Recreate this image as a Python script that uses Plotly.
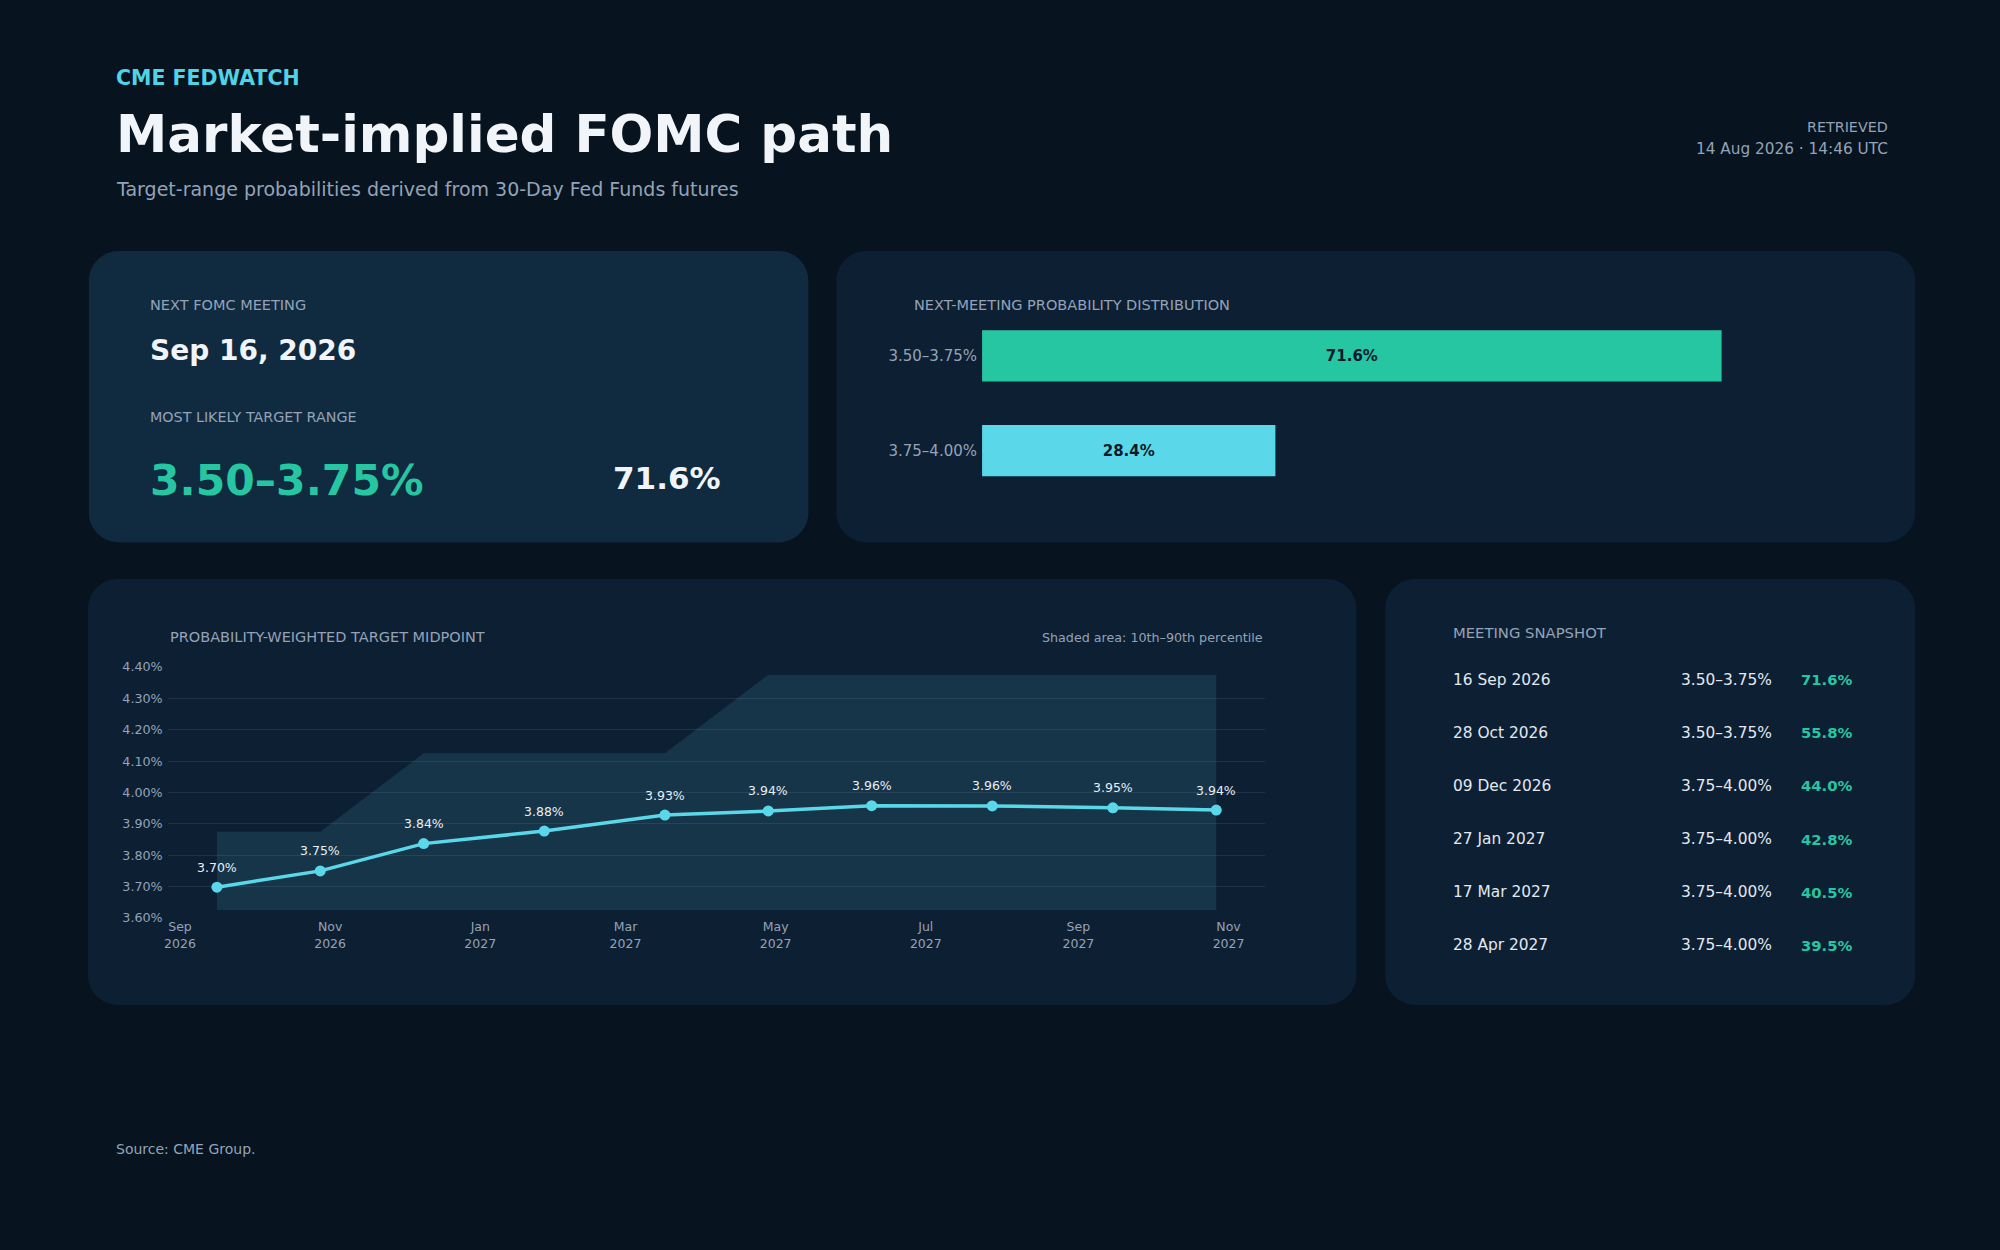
import plotly.graph_objects as go

W, H = 2000, 1250
FONT = "DejaVu Sans"

# ---- data ----
next_meeting = "Sep 16, 2026"
top_range = "3.50–3.75%"
top_prob = 71.6

dist_ranges = ["3.50–3.75%", "3.75–4.00%"]
dist_probs = [71.6, 28.4]

meeting_dates = [
    "2026-09-16", "2026-10-28", "2026-12-09", "2027-01-27", "2027-03-17",
    "2027-04-28", "2027-06-09", "2027-07-28", "2027-09-15", "2027-10-27",
]
midpoints = [3.698, 3.750, 3.837, 3.877, 3.928, 3.941, 3.958, 3.957, 3.951, 3.944]
band_low = [3.625, 3.625, 3.625, 3.625, 3.625, 3.625, 3.625, 3.625, 3.625, 3.625]
band_high = [3.875, 3.875, 4.125, 4.125, 4.125, 4.375, 4.375, 4.375, 4.375, 4.375]

snap_dates = ["16 Sep 2026", "28 Oct 2026", "09 Dec 2026", "27 Jan 2027", "17 Mar 2027", "28 Apr 2027"]
snap_ranges = ["3.50–3.75%", "3.50–3.75%", "3.75–4.00%", "3.75–4.00%", "3.75–4.00%", "3.75–4.00%"]
snap_probs = [71.6, 55.8, 44.0, 42.8, 40.5, 39.5]

# ---- colours ----
BG = "#07131f"
CARD_HI = "#102a40"
CARD = "#0d1f33"
MUTED = "#94a3b8"
WHITE = "#f1f5f9"
TEAL = "#27c6a3"
CYAN = "#5ad8ea"
GRID = "#1f3249"


def px(x):
    return x / W


def py(y):
    return 1 - y / H


def card(x0, y0, x1, y1, color, r=30):
    # rounded rectangle in paper coords (pixel inputs, y top-down)
    rx, ry = r / W, r / H
    k = 0.5523
    X0, X1, T, B = px(x0), px(x1), py(y0), py(y1)
    path = (
        f"M {X0 + rx},{T} L {X1 - rx},{T} "
        f"C {X1 - rx + k * rx},{T} {X1},{T - ry + k * ry} {X1},{T - ry} "
        f"L {X1},{B + ry} "
        f"C {X1},{B + ry - k * ry} {X1 - rx + k * rx},{B} {X1 - rx},{B} "
        f"L {X0 + rx},{B} "
        f"C {X0 + rx - k * rx},{B} {X0},{B + ry - k * ry} {X0},{B + ry} "
        f"L {X0},{T - ry} "
        f"C {X0},{T - ry + k * ry} {X0 + rx - k * rx},{T} {X0 + rx},{T} Z"
    )
    return dict(type="path", xref="paper", yref="paper", path=path,
                fillcolor=color, line=dict(width=0), layer="below")


annotations = []


def text(x, y, s, size, color, anchor="left", bold=False):
    annotations.append(dict(
        x=px(x), y=py(y), xref="paper", yref="paper", showarrow=False,
        text=f"<b>{s}</b>" if bold else s, xanchor=anchor, yanchor="middle",
        font=dict(family=FONT, size=size, color=color),
    ))


fig = go.Figure()

# next-meeting distribution (horizontal bars)
fig.add_trace(go.Bar(
    x=dist_probs, y=dist_ranges, orientation="h",
    marker=dict(color=[TEAL, CYAN], line=dict(width=0)),
    texttemplate="<b>%{x:.1f}%</b>", textposition="inside", insidetextanchor="middle",
    textfont=dict(family=FONT, size=15, color="#0b1a2b"),
    xaxis="x", yaxis="y", hoverinfo="skip",
))

# percentile band
fig.add_trace(go.Scatter(
    x=meeting_dates, y=band_low, mode="lines", line=dict(width=0),
    xaxis="x2", yaxis="y2", hoverinfo="skip",
))
fig.add_trace(go.Scatter(
    x=meeting_dates, y=band_high, mode="lines", line=dict(width=0),
    fill="tonexty", fillcolor="rgba(90,215,232,0.12)",
    xaxis="x2", yaxis="y2", hoverinfo="skip",
))
# probability-weighted midpoint
fig.add_trace(go.Scatter(
    x=meeting_dates, y=midpoints, mode="lines+markers",
    line=dict(color=CYAN, width=3.5), marker=dict(color=CYAN, size=11),
    xaxis="x2", yaxis="y2",
))
for d, v in zip(meeting_dates, midpoints):
    annotations.append(dict(
        x=d, y=v, xref="x2", yref="y2", showarrow=False, yshift=20,
        text=f"{v:.2f}%", font=dict(family=FONT, size=12.5, color="#e8eef5"),
    ))

# header
text(110, 71, "<b>CME FEDWATCH</b>", 20.5, "#4fd3e6")
text(110, 128, "<b>Market-implied FOMC path</b>", 51.5, WHITE)
text(110, 183, "Target-range probabilities derived from 30-Day Fed Funds futures", 19, MUTED)
text(1890, 120, "RETRIEVED", 14.3, MUTED, anchor="right")
text(1890, 143, "14 Aug 2026 · 14:46 UTC", 15.3, MUTED, anchor="right")

# card 1
text(144, 301, "NEXT FOMC MEETING", 14.5, MUTED)
text(144, 347, next_meeting, 28, WHITE, bold=True)
text(144, 414, "MOST LIKELY TARGET RANGE", 14.3, MUTED)
text(144, 478, top_range, 42.5, TEAL, bold=True)
text(720, 476, f"{top_prob:.1f}%", 31, WHITE, anchor="right", bold=True)

# card 2
text(910, 301, "NEXT-MEETING PROBABILITY DISTRIBUTION", 14.5, MUTED)

# card 3
text(164, 637, "PROBABILITY-WEIGHTED TARGET MIDPOINT", 14.5, MUTED)
text(1264, 637, "Shaded area: 10th–90th percentile", 12.7, MUTED, anchor="right")

# card 4 - meeting snapshot
text(1450, 632, "MEETING SNAPSHOT", 14.8, MUTED)
for i, (d, r, p) in enumerate(zip(snap_dates, snap_ranges, snap_probs)):
    y = 680 + i * 53.7
    text(1450, y, d, 15.4, "#e2e8f0")
    text(1678, y, r, 15.4, "#e2e8f0")
    text(1799, y, f"{p:.1f}%", 14.8, TEAL, bold=True)

# footer
text(110, 1155, "Source: CME Group.", 14, MUTED)

shapes = [
    card(85, 246, 806, 541, CARD_HI),
    card(834, 246, 1915, 541, CARD),
    card(84, 578, 1355, 1009, CARD),
    card(1384, 578, 1915, 1009, CARD),
]

fig.update_layout(
    width=W, height=H,
    margin=dict(l=0, r=0, t=0, b=0),
    paper_bgcolor=BG, plot_bgcolor="rgba(0,0,0,0)",
    showlegend=False,
    font=dict(family=FONT, color=MUTED),
    shapes=shapes, annotations=annotations,
    bargap=0.46,
    xaxis=dict(domain=[px(980), px(1808)], range=[0, 80], visible=False, fixedrange=True),
    yaxis=dict(domain=[py(496), py(304)], range=[1.5, -0.5], showgrid=False,
               zeroline=False, ticks="", ticklabelstandoff=4,
               tickfont=dict(family=FONT, size=15, color=MUTED)),
    xaxis2=dict(domain=[px(164), px(1264)], anchor="y2", type="date",
                range=["2026-08-27", "2027-11-16"], dtick="M2", tick0="2026-09-01",
                tickformat="%b<br>%Y", showgrid=False, zeroline=False, showline=False,
                ticks="", tickfont=dict(family=FONT, size=12.5, color=MUTED)),
    yaxis2=dict(domain=[py(921), py(667)], anchor="x2", range=[3.6, 4.4], dtick=0.1,
                tick0=3.6, tickformat=".2f", ticksuffix="%", gridcolor=GRID, gridwidth=1,
                zeroline=False, showline=False, ticks="", ticklabelstandoff=4,
                tickfont=dict(family=FONT, size=12.7, color=MUTED)),
)

# drop the default page margin so the 2000x1250 figure fills the window
fig.write_html(
    "out.html",
    config={"displayModeBar": False},
    post_script="document.body.style.margin='0';document.body.style.background='#07131f';",
)
